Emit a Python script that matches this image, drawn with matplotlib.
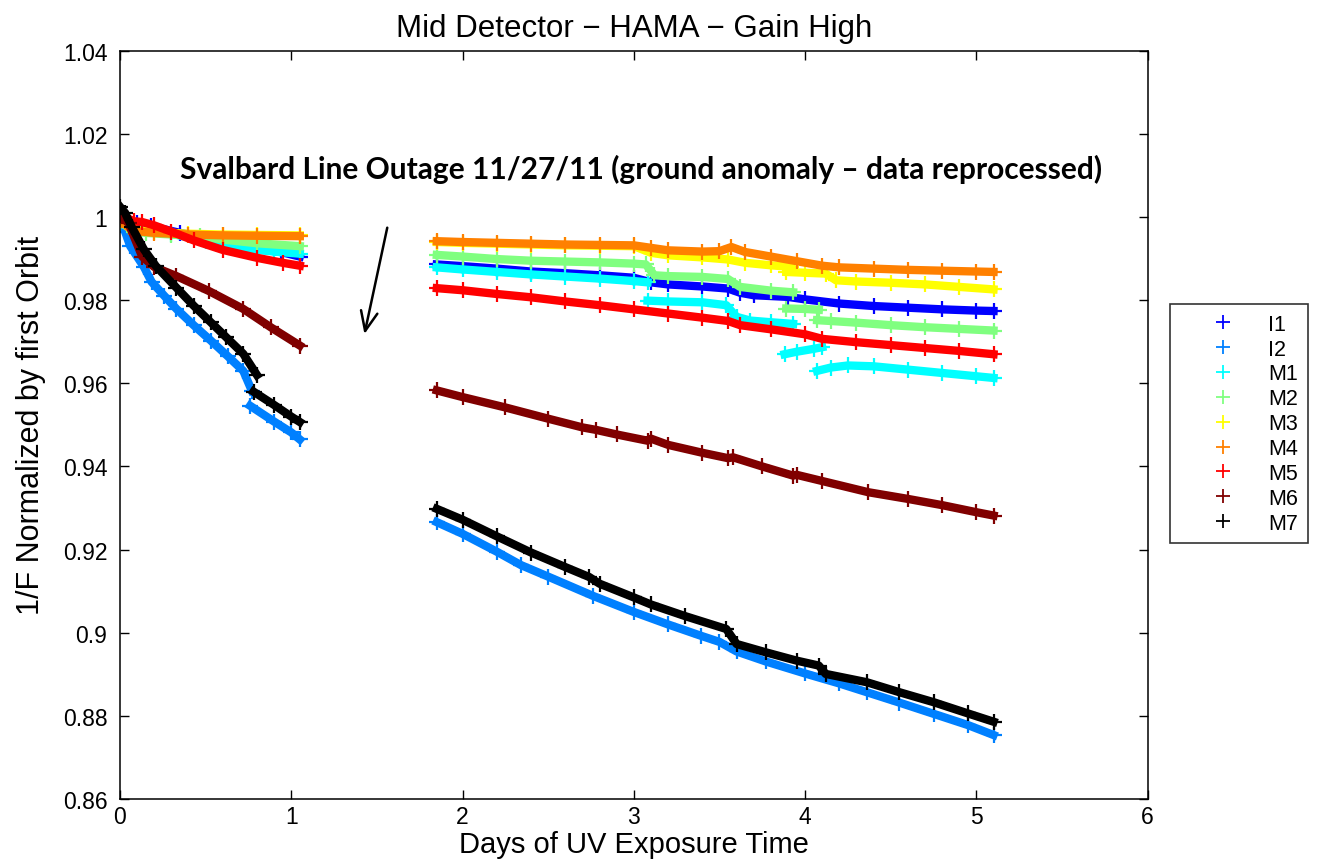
import matplotlib
matplotlib.use("Agg")
import matplotlib.pyplot as plt
import numpy as np
from matplotlib.lines import Line2D

nan = np.nan

# days of UV exposure / 1/F normalised by first orbit
# (nan splits the pieces: first day, then after the outage, plus small jumps)
i1_day = [0.0, 0.1, 0.18, 0.35, 0.5, 0.62, 0.8, 0.94, 1.05, nan,
          1.85, 2.0, 2.2, 2.4, 2.6, 2.8, 3.0, 3.1, 3.2, 3.4, 3.55, 3.62, 3.7,
          3.9, 4.0, 4.2, 4.4, 4.6, 4.8, 5.0, 5.1]
i1_val = [0.9998, 0.9985, 0.9978, 0.9962, 0.9950, 0.9943, 0.9923, 0.9916, 0.9905, nan,
          0.9886, 0.9882, 0.9876, 0.9869, 0.9865, 0.9860, 0.9854, 0.9843, 0.9838,
          0.9833, 0.9828, 0.9818, 0.9812, 0.9808, 0.9802, 0.9792, 0.9786, 0.9782,
          0.9778, 0.9775, 0.9774]

i2_day = [0.0, 0.03, 0.06, 0.14, 0.185, 0.26, 0.33, 0.43, 0.53, 0.63, 0.72, 0.77, nan,
          0.76, 0.9, 1.0, 1.05, nan,
          1.85, 2.0, 2.2, 2.34, 2.5, 2.76, 3.0, 3.2, 3.39, 3.5, 3.6, 3.77, 4.0,
          4.2, 4.36, 4.55, 4.75, 4.95, 5.1]
i2_val = [1.0000, 0.9965, 0.9930, 0.9880, 0.9844, 0.9810, 0.9779, 0.9740, 0.9703,
          0.9665, 0.9630, 0.9582, nan,
          0.9546, 0.9508, 0.9482, 0.9465, nan,
          0.9266, 0.9238, 0.9195, 0.9163, 0.9135, 0.9089, 0.9050, 0.9020, 0.8993,
          0.8978, 0.8955, 0.8931, 0.8902, 0.8878, 0.8857, 0.8832, 0.8805, 0.8778,
          0.8754]

m1_day = [0.0, 0.1, 0.3, 0.5, 0.7, 0.9, 1.05, nan,
          1.85, 2.0, 2.2, 2.4, 2.6, 2.8, 3.0, 3.08, nan,
          3.08, 3.2, 3.4, 3.54, 3.6, 3.68, 3.8, 3.93, nan,
          3.88, 3.95, 4.05, 4.1, nan,
          4.07, 4.15, 4.25, 4.4, 4.6, 4.8, 5.0, 5.1]
m1_val = [0.9985, 0.9970, 0.9960, 0.9942, 0.9925, 0.9917, 0.9912, nan,
          0.9879, 0.9874, 0.9868, 0.9862, 0.9857, 0.9852, 0.9846, 0.9843, nan,
          0.9799, 0.9797, 0.9795, 0.9788, 0.9760, 0.9751, 0.9747, 0.9743, nan,
          0.9670, 0.9676, 0.9683, 0.9687, nan,
          0.9630, 0.9638, 0.9643, 0.9641, 0.9633, 0.9625, 0.9617, 0.9613]

m2_day = [0.0, 0.08, 0.15, 0.3, 0.47, 0.6, 0.8, 1.05, nan,
          1.85, 2.0, 2.2, 2.4, 2.6, 2.8, 3.0, 3.07, 3.12, 3.2, 3.4, 3.55, 3.62,
          3.8, 3.93, nan,
          3.89, 4.0, 4.08, nan,
          4.07, 4.15, 4.3, 4.5, 4.7, 4.9, 5.1]
m2_val = [0.9990, 0.9965, 0.9962, 0.9958, 0.9954, 0.9946, 0.9937, 0.9930, nan,
          0.9909, 0.9905, 0.9899, 0.9895, 0.9893, 0.9891, 0.9888, 0.9886, 0.9860,
          0.9858, 0.9856, 0.9851, 0.9832, 0.9823, 0.9819, nan,
          0.9780, 0.9779, 0.9777, nan,
          0.9752, 0.9750, 0.9746, 0.9740, 0.9735, 0.9731, 0.9727]

m3_day = [0.0, 0.05, 0.1, 0.2, 0.4, 0.6, 0.8, 1.05, nan,
          1.85, 2.0, 2.2, 2.4, 2.6, 2.8, 3.0, 3.1, 3.2, 3.4, 3.55, 3.65, 3.8,
          3.92, nan,
          3.89, 4.0, 4.12, 4.18, 4.3, 4.5, 4.7, 4.9, 5.1]
m3_val = [0.9997, 0.9978, 0.9968, 0.9964, 0.9960, 0.9958, 0.9957, 0.9956, nan,
          0.9940, 0.9938, 0.9936, 0.9934, 0.9932, 0.9931, 0.9930, 0.9914, 0.9908,
          0.9903, 0.9898, 0.9890, 0.9884, 0.9880, nan,
          0.9868, 0.9866, 0.9864, 0.9848, 0.9845, 0.9842, 0.9838, 0.9832, 0.9826]

m4_day = [0.0, 0.05, 0.1, 0.2, 0.4, 0.6, 0.8, 1.05, nan,
          1.85, 2.0, 2.2, 2.4, 2.6, 2.8, 3.0, 3.1, 3.2, 3.4, 3.5, 3.57, 3.65,
          3.8, 3.95, 4.1, 4.2, 4.4, 4.6, 4.8, 5.0, 5.1]
m4_val = [0.9995, 0.9975, 0.9966, 0.9962, 0.9958, 0.9956, 0.9955, 0.9954, nan,
          0.9942, 0.9940, 0.9938, 0.9936, 0.9934, 0.9933, 0.9932, 0.9926, 0.9920,
          0.9917, 0.9918, 0.9928, 0.9916, 0.9905, 0.9894, 0.9883, 0.9879, 0.9876,
          0.9873, 0.9871, 0.9869, 0.9868]

m5_day = [0.0, 0.04, 0.08, 0.13, 0.2, 0.3, 0.43, 0.6, 0.8, 0.95, 1.05, nan,
          1.85, 2.0, 2.2, 2.4, 2.6, 2.8, 3.0, 3.2, 3.4, 3.55, 3.62, 3.8, 4.0,
          4.1, 4.3, 4.5, 4.7, 4.9, 5.1]
m5_val = [1.0010, 0.9998, 0.9990, 0.9988, 0.9980, 0.9965, 0.9944, 0.9921, 0.9902,
          0.9890, 0.9883, nan,
          0.9829, 0.9824, 0.9815, 0.9807, 0.9797, 0.9788, 0.9778, 0.9768, 0.9758,
          0.9750, 0.9740, 0.9730, 0.9718, 0.9707, 0.9699, 0.9692, 0.9685, 0.9678,
          0.9670]

m6_day = [0.0, 0.05, 0.13, 0.2, 0.33, 0.52, 0.72, 0.88, 1.05, nan,
          1.85, 2.0, 2.25, 2.5, 2.7, 2.78, 2.9, 3.08, 3.1, 3.2, 3.4, 3.55, 3.58,
          3.75, 3.93, 3.95, 4.1, 4.37, 4.6, 4.8, 5.0, 5.1]
m6_val = [1.0005, 0.9985, 0.9905, 0.9880, 0.9858, 0.9822, 0.9779, 0.9735, 0.9691, nan,
          0.9583, 0.9567, 0.9542, 0.9515, 0.9494, 0.9488, 0.9477, 0.9462, 0.9467,
          0.9452, 0.9433, 0.9420, 0.9422, 0.9400, 0.9378, 0.9380, 0.9365, 0.9338,
          0.9322, 0.9307, 0.9290, 0.9282]

m7_day = [0.0, 0.03, 0.07, 0.14, 0.21, 0.33, 0.43, 0.53, 0.62, 0.72, 0.8, nan,
          0.78, 0.9, 1.0, 1.05, nan,
          1.85, 2.0, 2.2, 2.4, 2.6, 2.74, 2.8, 3.0, 3.1, 3.3, 3.54, 3.6, 3.77,
          3.95, 4.08, 4.12, 4.36, 4.55, 4.75, 4.95, 5.1]
m7_val = [1.0025, 1.0010, 0.9975, 0.9922, 0.9882, 0.9830, 0.9787, 0.9747, 0.9711,
          0.9671, 0.9620, nan,
          0.9580, 0.9548, 0.9520, 0.9507, nan,
          0.9298, 0.9272, 0.9232, 0.9193, 0.9158, 0.9134, 0.9118, 0.9085, 0.9068,
          0.9040, 0.9009, 0.8973, 0.8953, 0.8933, 0.8921, 0.8901, 0.8881, 0.8857,
          0.8833, 0.8806, 0.8786]

names = ["I1", "I2", "M1", "M2", "M3", "M4", "M5", "M6", "M7"]
days = [i1_day, i2_day, m1_day, m2_day, m3_day, m4_day, m5_day, m6_day, m7_day]
vals = [i1_val, i2_val, m1_val, m2_val, m3_val, m4_val, m5_val, m6_val, m7_val]
colors = ["#0000ff", "#0080ff", "#00ffff", "#80ff80", "#ffff00",
          "#ff8000", "#ff0000", "#800000", "#000000"]

plt.rcParams["font.family"] = ["Liberation Sans", "DejaVu Sans"]

fig = plt.figure(figsize=(13.21, 8.62), dpi=100)
ax = fig.add_axes([0.0908, 0.0719, 0.778, 0.868])

for d, v, c in zip(days, vals, colors):
    ax.plot(d, v, "-", color=c, lw=6, marker="+", ms=11, mew=1.6)

ax.set_xlim(0, 6)
ax.set_ylim(0.86, 1.04)
ax.set_xticks(range(7))
ax.set_yticks([0.86, 0.88, 0.9, 0.92, 0.94, 0.96, 0.98, 1.0, 1.02, 1.04])
ax.set_yticklabels(["0.86", "0.88", "0.9", "0.92", "0.94", "0.96", "0.98",
                    "1", "1.02", "1.04"])
ax.tick_params(direction="in", top=True, right=True, length=6.5, width=1,
               labelsize=16.5)
ax.tick_params(axis="x", pad=4)
ax.tick_params(axis="y", pad=9)
for s in ax.spines.values():
    s.set_linewidth(1.1)

ax.set_xlabel("Days of UV Exposure Time", fontsize=21, labelpad=2)
ax.set_ylabel("1/F Normalized by first Orbit", fontsize=22, labelpad=12)
ax.set_title("Mid Detector \u2212 HAMA \u2212 Gain High", fontsize=22.5, pad=11)

ax.text(3.04, 1.0116,
        "Svalbard Line Outage 11/27/11 (ground anomaly \u2013 data reprocessed)",
        ha="center", va="center", fontsize=21.5, fontweight="bold",
        family=["Lato", "DejaVu Sans"])
ax.annotate("", xy=(1.424, 0.9712), xytext=(1.564, 0.9981),
            arrowprops=dict(arrowstyle="->,head_length=1.4,head_width=0.6",
                            color="black", lw=1.8))

handles = [Line2D([], [], ls="none", marker="+", color=c, ms=10, mew=1.3)
           for c in colors]
leg = fig.legend(handles, names, loc="upper left",
                 bbox_to_anchor=(0.8857, 0.6462), fontsize=15.5,
                 frameon=True, fancybox=False, edgecolor="black",
                 borderpad=0.45, labelspacing=0.18, handlelength=4.0,
                 handletextpad=0.1, borderaxespad=0)
leg.get_frame().set_linewidth(1.2)

plt.savefig("out.png", dpi=100)
